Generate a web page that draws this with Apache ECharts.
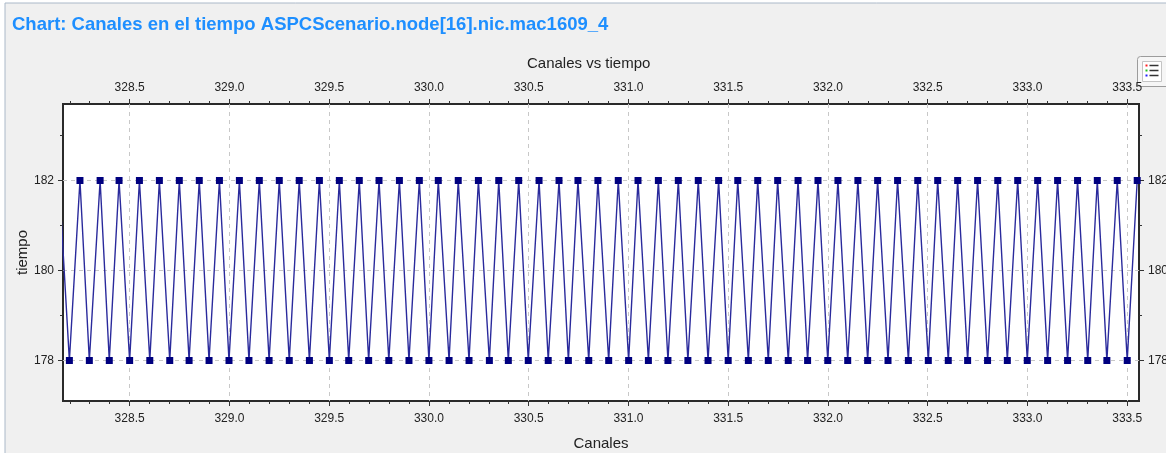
<!DOCTYPE html>
<html>
<head>
<meta charset="utf-8">
<script src="https://cdn.jsdelivr.net/npm/echarts@6/dist/echarts.min.js"></script>
<style>
    html, body { margin: 0; padding: 0; background: #fff; }
    #chart { width: 1166px; height: 453px; }
</style>
</head>
<body>
<div id="chart"></div>
<script>
    // tiempo (eje x)
    var tiempos = [
        328.146, 328.198, 328.251, 328.298, 328.352, 328.398, 328.447, 328.500, 328.549, 328.601,
        328.649, 328.701, 328.749, 328.798, 328.849, 328.898, 328.950, 328.998,
        329.050, 329.098, 329.150, 329.199, 329.250, 329.300, 329.350, 329.401, 329.451, 329.501,
        329.551, 329.598, 329.651, 329.698, 329.750, 329.799, 329.852, 329.900, 329.952, 330.000,
        330.047, 330.101, 330.147, 330.201, 330.248, 330.303, 330.350, 330.398, 330.450, 330.498,
        330.552, 330.598, 330.652, 330.699, 330.747, 330.801, 330.847, 330.901, 330.949, 331.001,
        331.048, 331.100, 331.150, 331.198, 331.250, 331.298, 331.350, 331.399, 331.452, 331.500,
        331.548, 331.601, 331.648, 331.701, 331.748, 331.801, 331.850, 331.898, 331.950, 331.999,
        332.050, 332.099, 332.150, 332.199, 332.249, 332.301, 332.349, 332.403, 332.450, 332.503,
        332.550, 332.603, 332.650, 332.700, 332.750, 332.800, 332.851, 332.899, 332.951, 332.999,
        333.051, 333.101, 333.151, 333.201, 333.251, 333.302, 333.350, 333.398, 333.450, 333.500,
        333.550
    ];
    // canal en cada instante
    var canales = [
        182, 178, 182, 178, 182, 178, 182, 178, 182, 178, 182, 178, 182, 178, 182, 178, 182, 178, 182, 178,
        182, 178, 182, 178, 182, 178, 182, 178, 182, 178, 182, 178, 182, 178, 182, 178, 182, 178, 182, 178,
        182, 178, 182, 178, 182, 178, 182, 178, 182, 178, 182, 178, 182, 178, 182, 178, 182, 178, 182, 178,
        182, 178, 182, 178, 182, 178, 182, 178, 182, 178, 182, 178, 182, 178, 182, 178, 182, 178, 182, 178,
        182, 178, 182, 178, 182, 178, 182, 178, 182, 178, 182, 178, 182, 178, 182, 178, 182, 178, 182, 178,
        182, 178, 182, 178, 182, 178, 182, 178,
        182
    ];
    var xTicks = [328.5, 329.0, 329.5, 330.0, 330.5, 331.0, 331.5, 332.0, 332.5, 333.0, 333.5];
    var yTicks = [178, 180, 182];

    var font = 'Arial, "Liberation Sans", sans-serif';
    var chart = echarts.init(document.getElementById('chart'), null, { renderer: 'canvas' });

    var puntos = tiempos.map(function (t, i) { return [t, canales[i]]; });

    function xAxisCfg(pos) {
        return {
            type: 'value',
            position: pos,
            min: 328.166,
            max: 333.559,
            splitNumber: 10,
            axisLine: { show: false },
            axisTick: { show: true, length: 5, lineStyle: { color: '#333' }, customValues: xTicks },
            minorTick: { show: true, splitNumber: 5, length: 3, lineStyle: { color: '#333' } },
            axisLabel: {
                customValues: xTicks,
                formatter: function (v) { return v.toFixed(1); },
                color: '#222', fontSize: 12, fontFamily: font,
                margin: pos === 'bottom' ? 12 : 10
            },
            splitLine: pos === 'bottom' ? {
                show: true,
                lineStyle: { color: '#c8c8c8', type: [4, 4], width: 1 }
            } : { show: false },
            name: pos === 'bottom' ? 'Canales' : '',
            nameLocation: 'middle',
            nameMoveOverlap: false,
            nameGap: 35,
            nameTextStyle: { color: '#222', fontSize: 15, fontFamily: font }
        };
    }

    function yAxisCfg(pos) {
        return {
            type: 'value',
            position: pos,
            min: 177.1,
            max: 183.7,
            splitNumber: 3,
            axisLine: { show: false },
            axisTick: { show: true, length: 5, lineStyle: { color: '#333' }, customValues: yTicks },
            minorTick: { show: true, splitNumber: 2, length: 3, lineStyle: { color: '#333' } },
            axisLabel: {
                customValues: yTicks,
                color: '#222', fontSize: 12, fontFamily: font, margin: 9
            },
            splitLine: pos === 'left' ? {
                show: true,
                lineStyle: { color: '#c8c8c8', type: [4, 4], width: 1 }
            } : { show: false },
            name: pos === 'left' ? 'tiempo' : '',
            nameLocation: 'middle',
            nameMoveOverlap: false,
            nameGap: 33,
            nameTextStyle: { color: '#222', fontSize: 15, fontFamily: font }
        };
    }

    var option = {
        animation: false,
        backgroundColor: '#fff',
        title: [
            {
                text: 'Chart: Canales en el tiempo ASPCScenario.node[16].nic.mac1609_4',
                left: 7,
                top: 10,
                textStyle: { color: '#1e8fff', fontSize: 18.5, fontWeight: 'bold', fontFamily: font }
            },
            {
                text: 'Canales vs tiempo',
                left: 522,
                top: 51,
                textStyle: { color: '#222', fontSize: 15, fontWeight: 'normal', fontFamily: font }
            }
        ],
        graphic: [
            {
                type: 'rect', z: -10, silent: true,
                shape: { x: 5, y: 3, width: 1170, height: 460 },
                style: { fill: '#f0f0f0', stroke: '#aab8c8', lineWidth: 1 }
            },
            {
                type: 'group', left: 1137, top: 56,
                children: [
                    { type: 'rect', shape: { x: 0, y: 0, width: 34, height: 30, r: 3 },
                      style: { fill: '#f6f6f6', stroke: '#9c9c9c', lineWidth: 1 } },
                    { type: 'rect', shape: { x: 5, y: 5, width: 19, height: 20 },
                      style: { fill: '#fff', stroke: '#c4c4c4', lineWidth: 1 } },
                    { type: 'rect', shape: { x: 8, y: 8, width: 2, height: 2 }, style: { fill: '#ff2020' } },
                    { type: 'rect', shape: { x: 8, y: 13, width: 2, height: 2 }, style: { fill: '#20c020' } },
                    { type: 'rect', shape: { x: 8, y: 18, width: 2, height: 2 }, style: { fill: '#2020ff' } },
                    { type: 'line', shape: { x1: 12, y1: 9, x2: 21, y2: 9 }, style: { stroke: '#333', lineWidth: 1.5 } },
                    { type: 'line', shape: { x1: 12, y1: 14, x2: 21, y2: 14 }, style: { stroke: '#333', lineWidth: 1.5 } },
                    { type: 'line', shape: { x1: 12, y1: 19, x2: 21, y2: 19 }, style: { stroke: '#333', lineWidth: 1.5 } }
                ]
            }
        ],
        grid: {
            left: 63,
            top: 104,
            width: 1076,
            height: 297,
            containLabel: false,
            outerBoundsMode: 'none',
            show: true,
            backgroundColor: '#fff',
            borderColor: '#2a2a2a',
            borderWidth: 2
        },
        xAxis: [xAxisCfg('bottom'), xAxisCfg('top')],
        yAxis: [yAxisCfg('left'), yAxisCfg('right')],
        series: [
            {
                type: 'line',
                data: puntos,
                symbol: 'rect',
                symbolSize: 7,
                showAllSymbol: true,
                itemStyle: { color: '#00007f' },
                lineStyle: { color: '#2a2a9c', width: 1.4 },
                clip: true
            }
        ]
    };
    chart.setOption(option);
</script>
</body>
</html>
